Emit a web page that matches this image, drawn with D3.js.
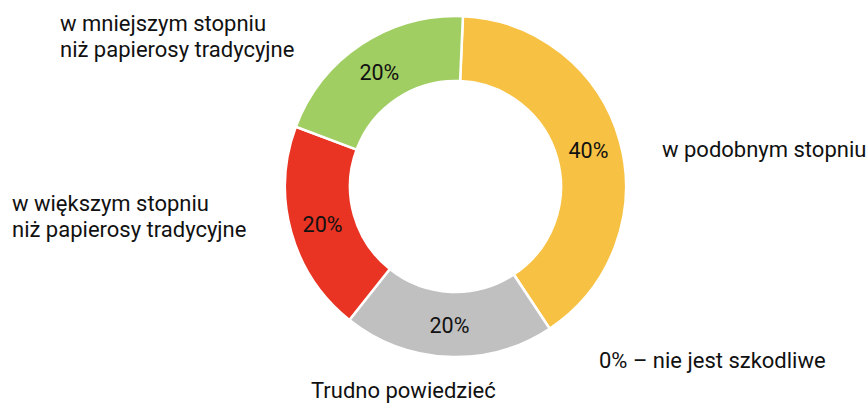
<!DOCTYPE html>
<html><head><meta charset="utf-8">
<script src="https://cdn.jsdelivr.net/npm/d3@7"></script>
<style>html,body{margin:0;padding:0;background:#fff}svg{display:block}text{font-family:Roboto,"Noto Sans",sans-serif;fill:#111}</style>
</head><body>
<svg id="c" width="868" height="403"></svg>
<script>
// data
const categories = ["w podobnym stopniu", "nie jest szkodliwe", "Trudno powiedzieć", "w większym stopniu niż papierosy tradycyjne", "w mniejszym stopniu niż papierosy tradycyjne"];
const values = [40, 0, 20, 20, 20];
const colors = ["#F7C244", "#FFFFFF", "#C0C0C0", "#E93323", "#A1CE63"];
const labelLines = [["w podobnym stopniu"], ["0% – nie jest szkodliwe"], ["Trudno powiedzieć"], ["w większym stopniu", "niż papierosy tradycyjne"], ["w mniejszym stopniu", "niż papierosy tradycyjne"]];

// layout
const W = 868, H = 403, cx = 455.5, cy = 186.5, rOuter = 170.5, rInner = 105.5;
const startDeg = 2.5;
const labelPos = [ [662, 157, "start"], [599, 368, "start"], [311, 397.5, "start"], [12, 211, "start"], [60, 31, "start"] ];
const lineH = 26;

const svg = d3.select("#c");
const g = svg.append("g").attr("transform", `translate(${cx},${cy})`);
const start = startDeg * Math.PI / 180;
const pie = d3.pie().sort(null).value(d => d).startAngle(start).endAngle(start + 2 * Math.PI);
const arcs = pie(values);
const arc = d3.arc().innerRadius(rInner).outerRadius(rOuter);

g.selectAll("path").data(arcs).join("path")
  .attr("d", arc)
  .attr("fill", (d, i) => colors[i])
  .attr("stroke", "#fff").attr("stroke-width", 2.5);

g.selectAll("text.pct").data(arcs.filter(d => d.data > 0)).join("text")
  .attr("class", "pct")
  .attr("x", d => arc.centroid(d)[0]).attr("y", d => arc.centroid(d)[1] + 1)
  .attr("text-anchor", "middle").attr("dominant-baseline", "central")
  .style("font-size", "21.5px")
  .text(d => d.data + "%");

const lab = svg.selectAll("text.lab").data(labelLines).join("text")
  .attr("class", "lab")
  .attr("x", (d, i) => labelPos[i][0]).attr("y", (d, i) => labelPos[i][1])
  .attr("text-anchor", (d, i) => labelPos[i][2])
  .style("font-size", "22px");
lab.each(function(lines, i) {
  d3.select(this).selectAll("tspan").data(lines).join("tspan")
    .attr("x", labelPos[i][0]).attr("dy", (l, j) => j === 0 ? 0 : lineH)
    .text(l => l);
});
</script>
</body></html>
